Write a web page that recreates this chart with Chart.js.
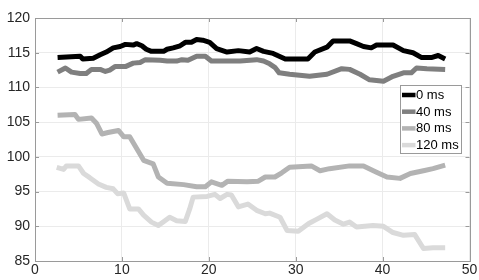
<!DOCTYPE html>
<html>
<head>
<meta charset="utf-8">
<script src="https://cdn.jsdelivr.net/npm/chart.js@4"></script>
<style>
  body { margin: 0; background: #fff; }
</style>
</head>
<body>
<canvas id="myChart" width="479" height="280"></canvas>
<script>
var labels = ['0 ms', '40 ms', '80 ms', '120 ms'];
var colors = ['#000000', '#7f7f7f', '#b3b3b3', '#dadada'];

var x0 = [2.6,5.2,5.5,6.7,7.5,8.2,9.0,9.8,10.4,11.3,11.7,12.3,12.8,13.4,14.8,15.2,15.9,16.7,17.3,18.0,18.6,19.3,20.1,20.9,22.1,23.4,24.7,25.5,26.3,27.4,28.8,31.4,32.2,33.6,34.3,36.2,37.0,37.8,38.7,39.3,41.2,42.4,43.5,44.5,45.6,46.4,47.2];
var y0 = [114.3,114.5,114.1,114.2,114.7,115.1,115.7,115.9,116.2,116.1,116.3,116.0,115.5,115.2,115.2,115.5,115.7,116.0,116.5,116.5,116.9,116.8,116.5,115.6,115.1,115.3,115.1,115.6,115.2,114.9,114.1,114.1,115.1,115.8,116.7,116.7,116.3,115.9,115.7,116.1,116.1,115.3,115.0,114.3,114.3,114.6,114.1];

var x40 = [2.6,3.5,4.2,5.2,5.9,6.5,7.5,8.1,8.6,9.2,10.4,11.3,12.1,12.7,14.4,15.2,16.3,16.9,17.6,18.6,19.6,20.3,23.6,25.5,26.3,27.0,27.6,28.1,29.3,31.6,33.6,35.3,36.2,37.4,38.5,40.1,41.2,42.4,43.3,43.9,45.1,47.2];
var y40 = [112.2,112.8,112.2,112.0,112.0,112.6,112.6,112.3,112.5,113.0,113.0,113.5,113.6,114.0,113.9,113.8,113.8,114.0,113.9,114.5,114.5,113.8,113.8,114.0,113.8,113.4,112.9,112.1,111.9,111.6,111.9,112.7,112.6,111.9,111.1,110.9,111.6,112.1,112.1,112.8,112.7,112.6];

var x80 = [2.6,4.6,5.0,6.5,7.1,7.7,8.4,9.6,10.2,10.9,11.7,12.5,13.6,14.2,15.2,17.1,18.6,19.6,20.3,21.5,22.2,24.4,25.7,26.5,27.6,28.4,29.3,31.8,32.8,33.9,36.2,37.8,39.3,40.5,42.0,43.2,44.7,45.8,47.2];
var y80 = [106.0,106.1,105.4,105.6,104.8,103.3,103.5,103.8,102.9,102.9,101.2,99.5,99.0,97.1,96.2,96.0,95.7,95.7,96.4,95.9,96.5,96.4,96.5,97.1,97.1,97.7,98.5,98.7,98.0,98.3,98.7,98.7,97.8,97.1,96.9,97.6,98.0,98.3,98.8];

var x120 = [2.5,3.3,3.6,5.0,5.6,6.3,7.3,8.2,9.0,9.5,10.2,10.9,11.9,12.5,13.4,14.2,15.5,16.3,17.3,17.8,18.2,19.8,20.7,21.3,22.1,22.6,23.4,24.5,25.5,26.5,27.0,28.2,29.0,30.3,31.5,32.4,33.6,34.5,35.5,36.2,37.0,38.9,40.1,41.2,42.4,43.7,44.7,45.8,47.2];
var y120 = [98.5,98.2,98.7,98.7,97.6,97.0,96.1,95.6,95.4,94.7,94.8,92.5,92.5,91.6,90.6,90.1,91.3,90.8,90.7,92.5,94.2,94.3,94.6,94.0,94.6,94.5,92.8,93.2,92.3,91.8,91.9,91.3,89.4,89.3,90.4,91.0,91.8,90.9,90.3,90.6,89.9,90.1,90.0,89.1,88.7,88.8,86.8,86.9,86.9];

var xTicks = [0, 10, 20, 30, 40, 50];
var yTicks = [85, 90, 95, 100, 105, 110, 115, 120];

function pts(xs, ys) {
    return xs.map(function(x, i) { return {x: x, y: ys[i]}; });
}

var seriesX = [x0, x40, x80, x120];
var seriesY = [y0, y40, y80, y120];

var datasets = labels.map(function(l, i) {
    return {
        label: l,
        data: pts(seriesX[i], seriesY[i]),
        borderColor: colors[i],
        backgroundColor: colors[i],
        borderWidth: 5,
        pointRadius: 0,
        tension: 0,
        borderJoinStyle: 'round'
    };
});
// draw lightest first so darker lines sit on top
datasets.reverse();

var fontFam = '"Liberation Sans", Arial, sans-serif';

// MATLAB style box with inward ticks + legend
var boxPlugin = {
    id: 'box',
    afterDraw: function(chart) {
        var c = chart.ctx, a = chart.chartArea;
        var xs = chart.scales.x, ys = chart.scales.y;
        c.save();
        c.strokeStyle = '#9a9a9a';
        c.lineWidth = 1;
        c.strokeRect(Math.round(a.left) + 0.5, Math.round(a.top) + 0.5,
            Math.round(a.right - a.left), Math.round(a.bottom - a.top));
        c.beginPath();
        xTicks.forEach(function(t) {
            var px = Math.round(xs.getPixelForValue(t)) + 0.5;
            c.moveTo(px, a.bottom); c.lineTo(px, a.bottom - 4);
            c.moveTo(px, a.top); c.lineTo(px, a.top + 4);
        });
        yTicks.forEach(function(t) {
            var py = Math.round(ys.getPixelForValue(t)) + 0.5;
            c.moveTo(a.left, py); c.lineTo(a.left + 4, py);
            c.moveTo(a.right, py); c.lineTo(a.right - 4, py);
        });
        c.stroke();

        // legend
        var lx = 400.5, ly = 85.5, lw = 61, lh = 68;
        c.fillStyle = '#fff';
        c.fillRect(lx, ly, lw, lh);
        c.strokeStyle = '#9a9a9a';
        c.strokeRect(lx, ly, lw, lh);
        c.font = '13px ' + fontFam;
        c.textBaseline = 'middle';
        c.textAlign = 'left';
        labels.forEach(function(l, i) {
            var yy = 95 + i * 16.7;
            c.strokeStyle = colors[i];
            c.lineWidth = 4.5;
            c.beginPath();
            c.moveTo(402, yy); c.lineTo(415.5, yy);
            c.stroke();
            c.fillStyle = '#000';
            c.fillText(l, 416, yy + 0.5);
        });
        c.restore();
    }
};

var ctx = document.getElementById('myChart');
var myChart = new Chart(ctx, {
    type: 'line',
    data: { datasets: datasets },
    options: {
        responsive: false,
        animation: false,
        layout: { padding: { left: 0, top: 18, right: 9.5, bottom: 0 } },
        scales: {
            x: {
                type: 'linear',
                min: 0,
                max: 50,
                afterBuildTicks: function(scale) {
                    scale.ticks = xTicks.map(function(v) { return {value: v}; });
                },
                afterFit: function(scale) { scale.height = 19; },
                ticks: {
                    color: '#262626',
                    font: { family: fontFam, size: 14 },
                    padding: 1,
                    maxRotation: 0
                },
                grid: { color: '#ebebeb', drawTicks: false },
                border: { color: '#9a9a9a' }
            },
            y: {
                min: 85,
                max: 120,
                afterBuildTicks: function(scale) {
                    scale.ticks = yTicks.map(function(v) { return {value: v}; });
                },
                afterFit: function(scale) { scale.width = 35; },
                ticks: {
                    color: '#262626',
                    font: { family: fontFam, size: 14 },
                    padding: 5
                },
                grid: { color: '#ebebeb', drawTicks: false },
                border: { color: '#9a9a9a' }
            }
        },
        plugins: {
            legend: { display: false },
            tooltip: { enabled: false }
        }
    },
    plugins: [boxPlugin]
});
</script>
</body>
</html>
